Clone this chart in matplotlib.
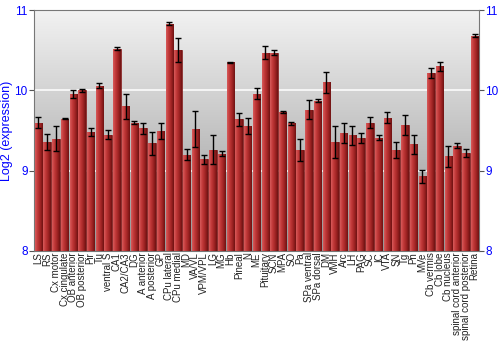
import matplotlib

matplotlib.use("Agg")
import matplotlib.pyplot as plt
import numpy as np
from matplotlib.colors import LinearSegmentedColormap

plt.rcParams["font.family"] = ["Liberation Sans", "DejaVu Sans"]

regions = [
    "LS", "RS", "Cx motor", "Cx cingulate", "OB anterior", "OB posterior", "Pir", "Tu",
    "ventral S", "CA1", "CA2/CA3", "DG", "A anterior", "A posterior", "GP", "CPu lateral",
    "CPu medial", "MD", "VA/VL", "VPM/VPL", "LG", "MG", "Hb", "Pineal", "N", "ME",
    "Pituitary", "SCN", "MPA", "SO", "Pa", "SPa ventral", "SPa dorsal", "DM", "VMH", "Arc",
    "LH", "PAG", "SC", "IC", "VTA", "SN", "Tg", "Pn", "MVe", "Cb vermis", "Cb lobe",
    "Cb nucleus", "spinal cord anterior", "spinal cord posterior", "Retina",
]
expression = [
    9.60, 9.36, 9.40, 9.65, 9.96, 10.00, 9.48, 10.06,
    9.45, 10.52, 9.80, 9.60, 9.53, 9.34, 9.50, 10.83,
    10.50, 9.20, 9.52, 9.14, 9.26, 9.21, 10.35, 9.64, 9.56, 9.96,
    10.47, 10.47, 9.73, 9.59, 9.26, 9.76, 9.87, 10.10, 9.36, 9.47,
    9.44, 9.41, 9.60, 9.41, 9.66, 9.26, 9.57, 9.33, 8.93, 10.22, 10.30,
    9.18, 9.31, 9.22, 10.68,
]
error = [
    0.07, 0.10, 0.16, 0.01, 0.05, 0.02, 0.05, 0.03,
    0.06, 0.02, 0.15, 0.02, 0.07, 0.14, 0.10, 0.02,
    0.15, 0.07, 0.22, 0.06, 0.18, 0.03, 0.005, 0.08, 0.10, 0.07,
    0.08, 0.03, 0.01, 0.02, 0.14, 0.12, 0.02, 0.13, 0.20, 0.12,
    0.12, 0.06, 0.07, 0.03, 0.07, 0.10, 0.12, 0.12, 0.08, 0.06, 0.06,
    0.13, 0.03, 0.05, 0.02,
]
y_ticks = [8, 9, 10, 11]

blue = "#0000ff"
fig = plt.figure(figsize=(5, 3.5), dpi=100)
ax = fig.add_axes([0.068, 0.283, 0.89, 0.688])
ax.set_xlim(-0.5, len(regions) - 0.5)
ax.set_ylim(8, 11)

# background gradient
bg = LinearSegmentedColormap.from_list("bg", ["#969696", "#c4c4c4", "#f2f2f2"])
ax.imshow(np.linspace(0, 1, 256).reshape(-1, 1), cmap=bg, aspect="auto",
          extent=(0, 1, 0, 1), transform=ax.transAxes, origin="lower", zorder=0)
for yv in [9, 10]:
    ax.axhline(yv, color="white", lw=1.2, alpha=0.9, zorder=1)

x = np.arange(len(regions))
bars = ax.bar(x, np.array(expression) - 8, bottom=8, width=0.85, color="#b83030",
              edgecolor="#7a1a1a", linewidth=0.5, zorder=2)
red = LinearSegmentedColormap.from_list("red", ["#d85a5a", "#c03838", "#a02424", "#6e1212"])
grad = np.linspace(0, 1, 64).reshape(1, -1)
for b in bars:
    im = ax.imshow(grad, cmap=red, aspect="auto", zorder=3,
                   extent=(b.get_x(), b.get_x() + b.get_width(), 8, b.get_y() + b.get_height()))
    im.set_clip_path(b)
ax.errorbar(x, expression, yerr=error, fmt="none", ecolor="black", elinewidth=1,
            capsize=2, capthick=1, zorder=4)

ax.set_xticks(x)
ax.set_xticklabels(regions, rotation=90, fontsize=7, color="#222222")
ax.tick_params(axis="x", length=0, pad=1)
ax.set_yticks(y_ticks)
ax.tick_params(axis="y", colors=blue, labelsize=8.5, length=3.5, width=0.8, pad=1,
               labelright=True, right=True)
ax.tick_params(axis="y", which="both", color="#555555")
ax.set_ylabel("Log2 (expression)", color=blue, fontsize=9, labelpad=1)
for s in ax.spines.values():
    s.set_color("#777777")
    s.set_linewidth(0.8)

fig.savefig("out.png", dpi=100)
